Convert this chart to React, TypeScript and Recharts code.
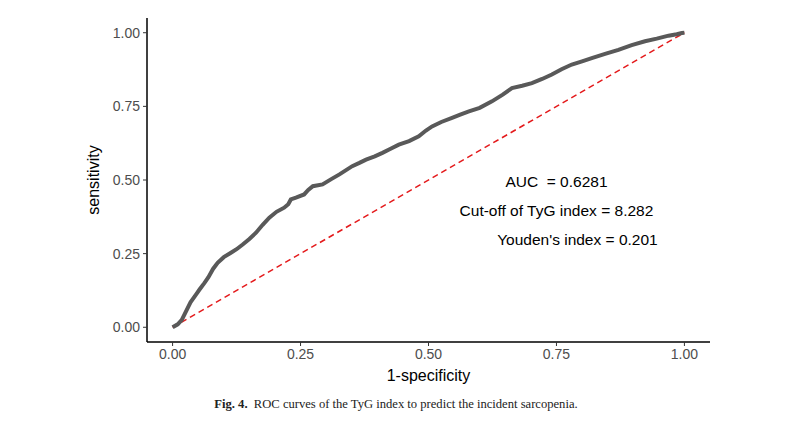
import React from "react";
import { LineChart, Line, XAxis, YAxis, ReferenceDot } from "recharts";

const fpr = [0, 0.01, 0.018, 0.025, 0.035, 0.046, 0.053, 0.062, 0.07, 0.079, 0.088, 0.1, 0.114, 0.125, 0.137, 0.15, 0.163, 0.176, 0.189, 0.203, 0.218, 0.226, 0.231, 0.241, 0.257, 0.265, 0.274, 0.293, 0.31, 0.326, 0.351, 0.365, 0.378, 0.395, 0.41, 0.425, 0.442, 0.462, 0.481, 0.495, 0.507, 0.525, 0.546, 0.562, 0.579, 0.6, 0.624, 0.645, 0.663, 0.683, 0.702, 0.722, 0.741, 0.76, 0.78, 0.8, 0.819, 0.845, 0.871, 0.897, 0.923, 0.946, 0.969, 0.985, 0.995, 1];
const tpr = [0, 0.01, 0.025, 0.05, 0.085, 0.112, 0.129, 0.15, 0.17, 0.198, 0.219, 0.238, 0.253, 0.265, 0.281, 0.3, 0.321, 0.348, 0.372, 0.392, 0.406, 0.418, 0.434, 0.44, 0.451, 0.466, 0.479, 0.485, 0.503, 0.519, 0.547, 0.558, 0.569, 0.58, 0.592, 0.605, 0.62, 0.632, 0.648, 0.668, 0.682, 0.697, 0.711, 0.722, 0.733, 0.745, 0.767, 0.79, 0.812, 0.82, 0.829, 0.843, 0.858, 0.876, 0.892, 0.903, 0.914, 0.928, 0.942, 0.958, 0.971, 0.98, 0.99, 0.995, 0.999, 1];
const diagX = [0, 1];
const diagY = [0, 1];
const ticks = [0, 0.25, 0.5, 0.75, 1];
const annotations = [
  { x: 0.75, y: 0.495, text: "AUC\u00a0 = 0.6281" },
  { x: 0.75, y: 0.397, text: "Cut-off of TyG index = 8.282" },
  { x: 0.791, y: 0.298, text: "Youden's index = 0.201" },
];

const rocData = fpr.map((x, i) => ({ x, y: tpr[i] }));
const diagData = diagX.map((x, i) => ({ x, y: diagY[i] }));

const font = "Liberation Sans, Arial, sans-serif";

export default function App() {
  return (
    <div style={{ position: "absolute", left: 0, top: 0, width: 808, height: 426, background: "#fff" }}>
      <LineChart width={808} height={426} margin={{ top: 18, right: 98, bottom: 24, left: 87 }}>
        <XAxis
          type="number"
          dataKey="x"
          domain={[-0.05, 1.05]}
          ticks={ticks}
          allowDataOverflow
          tickFormatter={(v: number) => v.toFixed(2)}
          height={60}
          stroke="#000"
          strokeWidth={1.5}
          tickSize={4}
          tickMargin={3}
          tick={{ fill: "#4d4d4d", fontSize: 14, fontFamily: font }}
          tickLine={{ stroke: "#333", strokeWidth: 1 }}
          label={{ value: "1-specificity", position: "insideBottom", offset: 21, fill: "#000", fontSize: 16, fontFamily: font }}
        />
        <YAxis
          type="number"
          dataKey="y"
          domain={[-0.05, 1.05]}
          ticks={ticks}
          allowDataOverflow
          tickFormatter={(v: number) => v.toFixed(2)}
          width={60}
          stroke="#000"
          strokeWidth={1.5}
          tickSize={4}
          tickMargin={3}
          tick={{ fill: "#4d4d4d", fontSize: 14, fontFamily: font }}
          tickLine={{ stroke: "#333", strokeWidth: 1 }}
          label={{ value: "sensitivity", angle: -90, position: "insideLeft", offset: 6, fill: "#000", fontSize: 16, fontFamily: font, style: { textAnchor: "middle" } }}
        />
        <Line data={diagData} dataKey="y" type="linear" stroke="#e41a1c" strokeWidth={1.5} strokeDasharray="6 4" dot={false} isAnimationActive={false} />
        <Line data={rocData} dataKey="y" type="linear" stroke="#595959" strokeWidth={4} dot={false} isAnimationActive={false} />
        {annotations.map((a, i) => (
          <ReferenceDot
            key={i}
            x={a.x}
            y={a.y}
            r={0}
            fill="none"
            stroke="none"
            label={{ value: a.text, position: "center", fill: "#000", fontSize: 15.5, fontFamily: font }}
          />
        ))}
      </LineChart>
      <div
        style={{
          position: "absolute",
          left: -8,
          width: 808,
          top: 397,
          textAlign: "center",
          fontFamily: "Liberation Serif, DejaVu Serif, serif",
          fontSize: 12.6,
          color: "#222",
          boxSizing: "border-box",
        }}
      >
        <b>Fig. 4.</b>&nbsp; ROC curves of the TyG index to predict the incident sarcopenia.
      </div>
    </div>
  );
}
